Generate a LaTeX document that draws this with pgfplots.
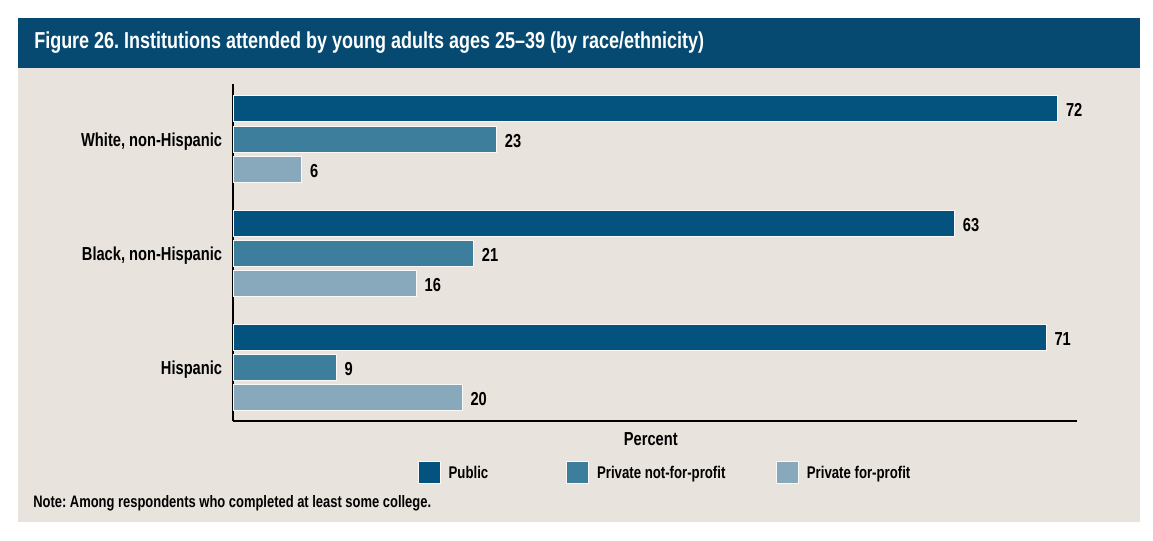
\documentclass[border=0pt]{standalone}
\usepackage{pgfplots}
\pgfplotsset{compat=1.18}
\usepackage{fontspec}
\setmainfont[FakeStretch=0.78]{Liberation Sans}
\frenchspacing
\definecolor{navy}{HTML}{064A72}
\definecolor{beige}{HTML}{E8E3DC}
\definecolor{pub}{HTML}{03537E}
\definecolor{pnp}{HTML}{3D7E9C}
\definecolor{pfp}{HTML}{88A8BC}

\begin{document}
\begin{tikzpicture}
\useasboundingbox (0,0) rectangle (864.75pt,405.75pt);
\fill[white] (0,0) rectangle (864.75pt,405.75pt);
\fill[beige] (13.5pt,14.25pt) rectangle (855pt,392.25pt);
\fill[navy] (13.5pt,354.75pt) rectangle (855pt,392.25pt);
\node[anchor=west, text=white, font=\fontsize{17.3}{20}\selectfont\bfseries, inner sep=0pt]
  at (25.5pt,373.5pt) {Figure 26. Institutions attended by young adults ages 25–39 (by race/ethnicity)};
\node[anchor=west, font=\fontsize{12.45}{14}\selectfont\bfseries, inner sep=0pt]
  at (24.75pt,28pt) {Note: Among respondents who completed at least some college.};
\begin{axis}[
  at={(174.75pt,90pt)}, anchor=south west,
  scale only axis, width=633pt, height=252.75pt,
  xmin=0, xmax=73.7, ymin=0, ymax=337,
  clip=false,
  axis x line*=bottom, axis y line*=left,
  axis line style={line width=1pt, -},
  xtick=\empty, major tick length=0pt,
  ytick={281,167,53},
  yticklabels={{White, non-Hispanic},{Black, non-Hispanic},Hispanic},
  yticklabel style={font=\fontsize{14.1}{16}\selectfont\bfseries, inner sep=0pt, xshift=-8pt, yshift=-1.5pt},
  xlabel={Percent},
  xlabel style={at={(axis description cs:0.495,0)}, anchor=center, yshift=-13.5pt,
    font=\fontsize{14.1}{16}\selectfont\bfseries},
  point meta=x,
  /pgf/number format/assume math mode=true,
  nodes near coords,
  nodes near coords style={anchor=west, inner sep=0pt, xshift=6pt, yshift=-0.5pt,
    font=\fontsize{14.1}{16}\selectfont\bfseries, text=black},
  legend columns=3,
  legend style={at={(axis description cs:0.219,-0.154)}, anchor=west,
    draw=none, fill=none, inner sep=0pt, outer sep=0pt,
    font=\fontsize{12.7}{15}\selectfont\bfseries,
    nodes={inner sep=0pt},
    /tikz/column 1/.style={column sep=6pt},
    /tikz/column 2/.style={column sep=58.5pt},
    /tikz/column 3/.style={column sep=6pt},
    /tikz/column 4/.style={column sep=38pt},
    /tikz/column 5/.style={column sep=6pt}},
  legend image code/.code={\fill[#1, draw=white!80!beige, line width=0.6pt] (0pt,-8.25pt) rectangle (16.5pt,8.25pt);},
]
\addplot[xbar, bar shift=0pt, bar width=26, fill=pub, draw=white!80!beige, line width=0.75pt]
  coordinates {(72,312) (63,197) (71,83)};
\addlegendentry{Public}
\addplot[xbar, bar shift=0pt, bar width=26, fill=pnp, draw=white!80!beige, line width=0.75pt]
  coordinates {(23,281) (21,167) (9,53)};
\addlegendentry{Private not-for-profit}
\addplot[xbar, bar shift=0pt, bar width=26, fill=pfp, draw=white!80!beige, line width=0.75pt]
  coordinates {(6,251) (16,137) (20,23)};
\addlegendentry{Private for-profit}
\end{axis}
\end{tikzpicture}
\end{document}
